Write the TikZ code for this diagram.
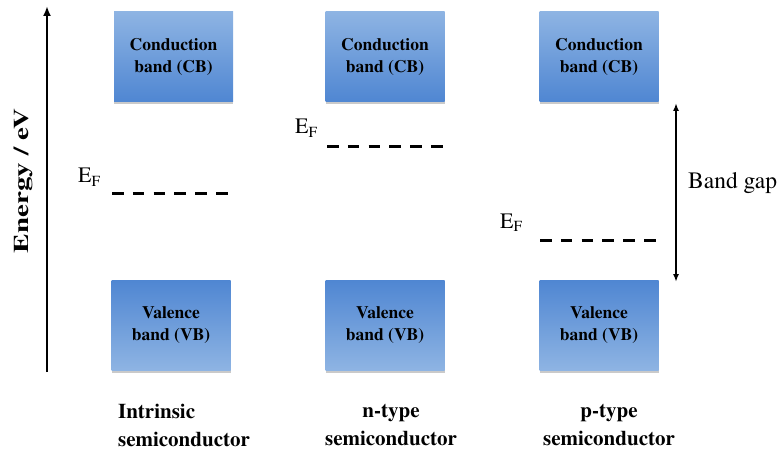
\documentclass[tikz,border=0pt]{standalone}
\usepackage{fontspec}
\setmainfont{texgyretermes}[Extension=.otf,UprightFont=*-regular,BoldFont=*-bold,ItalicFont=*-italic,BoldItalicFont=*-bolditalic]
\usetikzlibrary{arrows.meta,shadows}
\definecolor{bandtop}{HTML}{8EB4E3}
\definecolor{bandbot}{HTML}{4F86D2}
\begin{document}
\begin{tikzpicture}[x=1pt,y=-1pt,
  band/.style={minimum width=119pt,minimum height=90pt,inner sep=0pt,
    font=\fontsize{17.5}{22}\selectfont\bfseries,align=center,
    drop shadow={shadow xshift=0pt,shadow yshift=-2.5pt,opacity=0.35,fill=black!60}},
  cb/.style={band,top color=bandtop,bottom color=bandbot},
  vb/.style={band,top color=bandbot,bottom color=bandtop},
  fermi/.style={line width=3pt,dash pattern=on 11.5pt off 9.3pt},
  eflab/.style={font=\fontsize{22}{22}\selectfont,inner sep=0pt,anchor=base west},
  semi/.style={font=\fontsize{21}{28}\selectfont\bfseries,align=center},
  axis/.style={line width=2.6pt,-{Latex[length=10pt,width=8pt]}}]
\useasboundingbox (0,0) rectangle (784,449);
% bands
\node[cb] (cb1) at (173.5,57) {Conduction\\band (CB)};
\node[cb] (cb2) at (385,57) {Conduction\\band (CB)};
\node[cb] (cb3) at (599,57) {Conduction\\band (CB)};
\node[vb] (vb1) at (171,325) {Valence\\band (VB)};
\node[vb] (vb2) at (385,325) {Valence\\band (VB)};
\node[vb] (vb3) at (599,325) {Valence\\band (VB)};
% energy axis
\coordinate (ax0) at (47,372);
\coordinate (ax1) at (47,6);
\draw[axis] (ax0) -- (ax1);
\node[rotate=90,xscale=1.38,font=\fontsize{21}{21}\selectfont\bfseries] (elab) at (23,181) {Energy / eV};
% Fermi levels
\coordinate (f1a) at (112,194); \coordinate (f1b) at (231,194);
\draw[fermi] (f1a) -- (f1b);
\node[eflab] (ef1) at (78,183) {E\textsubscript{F}};
\coordinate (f2a) at (327,147); \coordinate (f2b) at (445,147);
\draw[fermi] (f2a) -- (f2b);
\node[eflab] (ef2) at (295,134) {E\textsubscript{F}};
\coordinate (f3a) at (540,240); \coordinate (f3b) at (658,240);
\draw[fermi] (f3a) -- (f3b);
\node[eflab] (ef3) at (500,228) {E\textsubscript{F}};
% band gap
\coordinate (bg0) at (676,103); \coordinate (bg1) at (676,282);
\draw[line width=1.8pt,{Latex[length=8pt,width=6pt]}-{Latex[length=8pt,width=6pt]}] (bg0) -- (bg1);
\node[font=\fontsize{23.5}{23.5}\selectfont,anchor=west,inner sep=0pt] (bglab) at (688,183) {Band gap};
% labels
\node[semi,align=left] (l1) at (184,425) {Intrinsic\\semiconductor};
\node[semi] (l2) at (391,425) {n-type\\semiconductor};
\node[semi] (l3) at (609,425) {p-type\\semiconductor};
\end{tikzpicture}
\end{document}
